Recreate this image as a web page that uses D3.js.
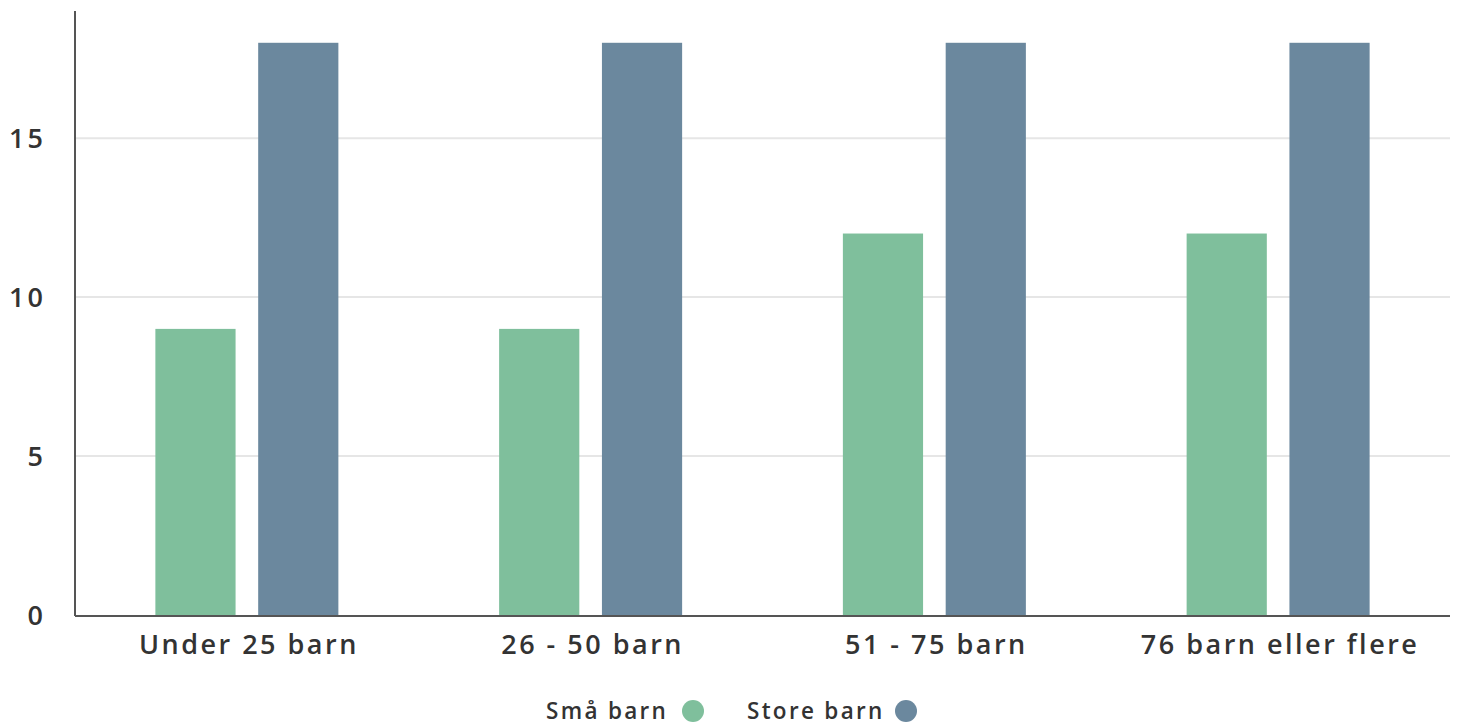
<!DOCTYPE html>
<html><head><meta charset="utf-8">
<script src="https://cdn.jsdelivr.net/npm/d3@7"></script>
<style>body{margin:0;background:#fff}svg{display:block}text{font-family:"Open Sans",sans-serif;font-weight:600;fill:#333}</style>
</head><body><svg id="c" width="1460" height="726"></svg>
<script>
const categories = ["Under 25 barn","26 - 50 barn","51 - 75 barn","76 barn eller flere"];
const seriesNames = ["Små barn","Store barn"];
const smaBarn = [9,9,12,12];
const storeBarn = [18,18,18,18];
const yTicks = [0,5,10,15];
const colors = ["#7fbf9c","#6b889e"];

const svg = d3.select("#c");
const m = {l:75, r:10, t:11, b:111};
const W = 1460, H = 726;
const x = d3.scaleBand().domain(categories).range([m.l, W-m.r]).paddingInner(0).paddingOuter(0);
const x1 = d3.scaleBand().domain(seriesNames).range([0, 183]).paddingInner(0.22);
const y = d3.scaleLinear().domain([0,19]).range([H-m.b, m.t]);

const grid = svg.append("g");
grid.selectAll("line").data(yTicks.filter(d=>d>0)).join("line")
  .attr("x1", m.l).attr("x2", W-m.r).attr("y1", d=>y(d)).attr("y2", d=>y(d))
  .attr("stroke","#e6e6e6").attr("stroke-width",2);

const data = [smaBarn, storeBarn];
const g = svg.append("g");
categories.forEach((c,i)=>{
  const off = x(c) + (x.bandwidth()-183)/2;
  seriesNames.forEach((s,j)=>{
    g.append("rect").attr("x", off + x1(s)).attr("width", x1.bandwidth())
      .attr("y", y(data[j][i])).attr("height", y(0)-y(data[j][i]))
      .attr("fill", colors[j]);
  });
});

// axes
svg.append("line").attr("x1",m.l).attr("x2",m.l).attr("y1",m.t).attr("y2",y(0)+1).attr("stroke","#555").attr("stroke-width",2);
svg.append("line").attr("x1",m.l).attr("x2",W-m.r).attr("y1",y(0)+1).attr("y2",y(0)+1).attr("stroke","#555").attr("stroke-width",2);

svg.append("g").selectAll("text").data(yTicks).join("text")
  .attr("x", 46).attr("y", d=>y(d)+10).attr("text-anchor","end")
  .attr("font-size",27).attr("letter-spacing",3).text(d=>d);

svg.append("g").selectAll("text").data(categories).join("text")
  .attr("x", d=>x(d)+x.bandwidth()/2+2).attr("y", 654).attr("text-anchor","middle")
  .attr("font-size",27).attr("letter-spacing",2.5).text(d=>d);

const leg = svg.append("g");
const legItems = [{n:seriesNames[0], tx:546, cx:693},{n:seriesNames[1], tx:747, cx:906}];
legItems.forEach((d,i)=>{
  leg.append("text").attr("x",d.tx).attr("y",719).attr("font-size",22.5).attr("letter-spacing",2.3).text(d.n);
  leg.append("circle").attr("cx",d.cx).attr("cy",711).attr("r",11).attr("fill",colors[i]);
});
</script></body></html>
